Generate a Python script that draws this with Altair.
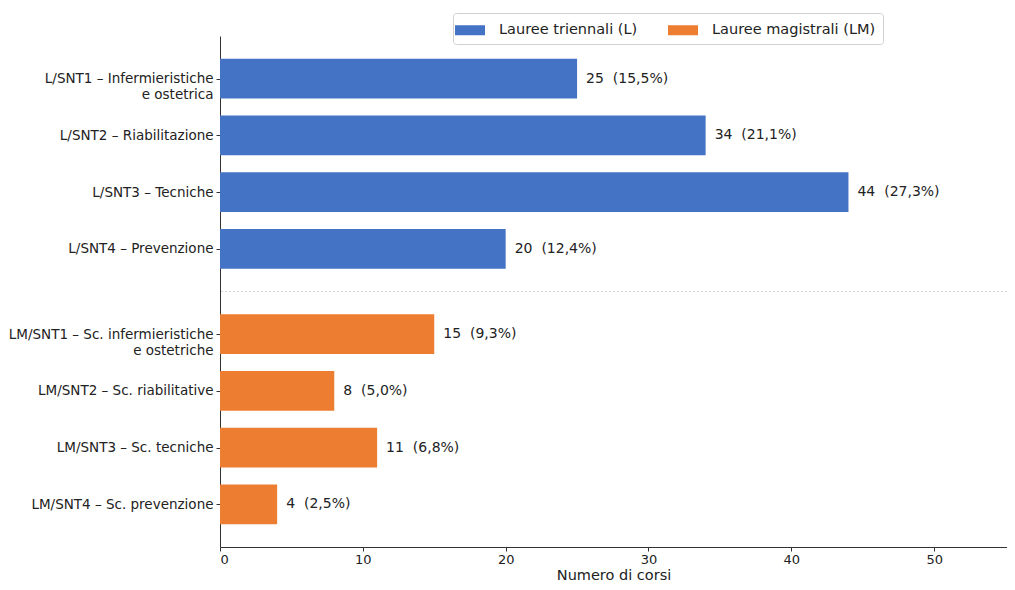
import altair as alt
import pandas as pd

labels = [
    "L/SNT1 – Infermieristiche\ne ostetrica",
    "L/SNT2 – Riabilitazione",
    "L/SNT3 – Tecniche",
    "L/SNT4 – Prevenzione",
    "LM/SNT1 – Sc. infermieristiche\ne ostetriche",
    "LM/SNT2 – Sc. riabilitative",
    "LM/SNT3 – Sc. tecniche",
    "LM/SNT4 – Sc. prevenzione",
]
positions = [0, 1, 2, 3, 4.5, 5.5, 6.5, 7.5]
counts = [25, 34, 44, 20, 15, 8, 11, 4]
pcts = ["15,5%", "21,1%", "27,3%", "12,4%", "9,3%", "5,0%", "6,8%", "2,5%"]
groups = ["Lauree triennali (L)"] * 4 + ["Lauree magistrali (LM)"] * 4
group_names = ["Lauree triennali (L)", "Lauree magistrali (LM)"]
group_colors = ["#4472C4", "#ED7D31"]
separator = [3.75]
x_ticks = [0, 10, 20, 30, 40, 50]

df = pd.DataFrame({
    "pos": positions,
    "count": counts,
    "label": [f"{c}\u00a0\u00a0({p})" for c, p in zip(counts, pcts)],
    "group": groups,
})

# label expression for y axis (multi-line labels)
parts = []
for p, l in zip(positions, labels):
    lines = l.split("\n")
    arr = "[" + ",".join("'" + s + "'" for s in lines) + "]"
    parts.append(f"datum.value == {p} ? {arr} : ")
label_expr = "".join(parts) + "''"

FONT = "DejaVu Sans"
xscale = alt.Scale(domain=[0, 55.1], nice=False, zero=True)
yscale = alt.Scale(domain=[-0.75, 8.25], nice=False, zero=False, reverse=True)

base = alt.Chart(df).transform_calculate(
    y0="datum.pos - 0.35", y1="datum.pos + 0.35"
)

bars = base.mark_bar().encode(
    x=alt.X("count:Q", scale=xscale,
            axis=alt.Axis(values=x_ticks, title="Numero di corsi", grid=False,
                          domainColor="#333", tickColor="#333", tickSize=4,
                          labelFontSize=13, titleFontSize=14.5, titleFontWeight="normal",
                          labelColor="#222", titleColor="#222", titlePadding=2,
                          labelPadding=2)),
    x2=alt.value(0),
    y=alt.Y("y0:Q", scale=yscale,
            axis=alt.Axis(values=positions, labelExpr=label_expr, title=None, grid=False,
                          domainColor="#333", tickColor="#333", tickSize=4,
                          labelFontSize=13.5, labelColor="#222", labelPadding=3,
                          labelLineHeight=16, labelLimit=400)),
    y2="y1:Q",
    color=alt.Color("group:N",
                    scale=alt.Scale(domain=group_names, range=group_colors),
                    legend=alt.Legend(title=None, orient="none", direction="horizontal",
                                      legendX=233, legendY=-23,
                                      symbolType="M-1.5,-0.5H1.5V0.5H-1.5Z", symbolSize=400,
                                      symbolStrokeWidth=0, symbolOpacity=1,
                                      labelFontSize=14.5, labelColor="#222", labelLimit=400,
                                      columnPadding=30, labelOffset=19,
                                      padding=7, strokeColor="#d0d0d0",
                                      fillColor="white", cornerRadius=3)),
)

texts = base.mark_text(align="left", baseline="middle", dx=9, fontSize=14,
                       font=FONT, color="#222").encode(
    x=alt.X("count:Q", scale=xscale),
    y=alt.Y("pos:Q", scale=yscale),
    text="label:N",
)

sep = alt.Chart(pd.DataFrame({"y": separator})).mark_rule(
    strokeDash=[2, 2], color="#c4c4c4", strokeWidth=0.7
).encode(y=alt.Y("y:Q", scale=yscale))

chart = alt.layer(bars, sep, texts).properties(
    width=787, height=511,
    padding={"left": 212, "top": 28, "right": 0, "bottom": 35},
    autosize=alt.AutoSizeParams(type="none"),
).configure(font=FONT).configure_view(stroke=None, strokeWidth=0)

chart.save("out.html", embed_options={"renderer": "svg", "actions": False})
